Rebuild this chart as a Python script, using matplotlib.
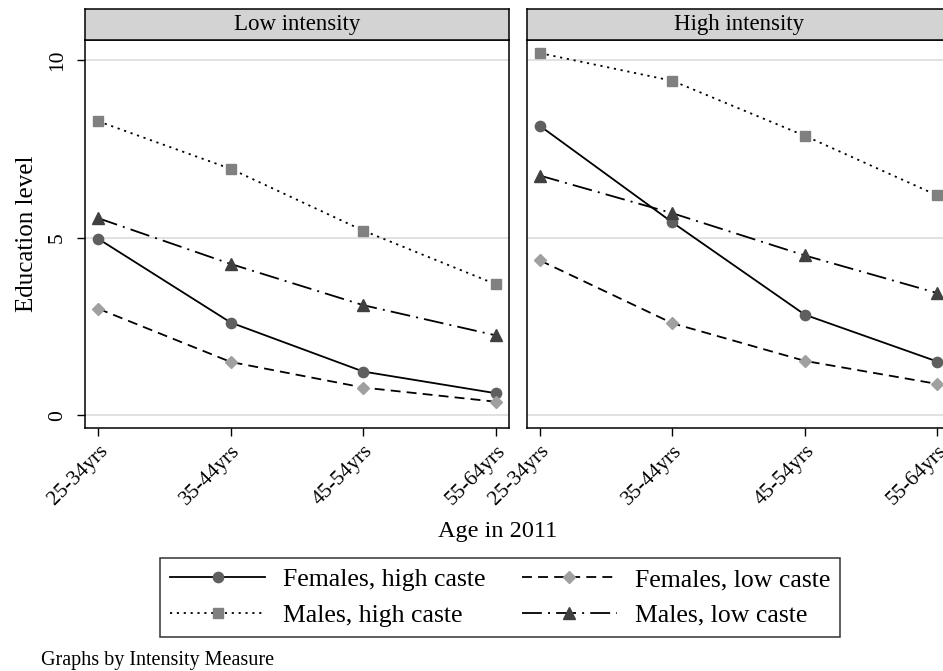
import matplotlib
matplotlib.use("Agg")
import matplotlib.pyplot as plt
from matplotlib.lines import Line2D

plt.rcParams['font.family'] = ['Liberation Serif', 'DejaVu Serif']

age_groups = ["25-34yrs", "35-44yrs", "45-54yrs", "55-64yrs"]
panels = ["Low intensity", "High intensity"]
series_labels = ["Females, high caste", "Females, low caste",
                 "Males, high caste", "Males, low caste"]

# values per panel: [low intensity, high intensity]
females_high = [[4.97, 2.61, 1.23, 0.62], [8.15, 5.43, 2.83, 1.51]]
females_low = [[3.00, 1.50, 0.78, 0.38], [4.36, 2.59, 1.53, 0.88]]
males_high = [[8.28, 6.94, 5.20, 3.69], [10.20, 9.42, 7.87, 6.19]]
males_low = [[5.55, 4.26, 3.10, 2.25], [6.75, 5.69, 4.50, 3.44]]

yticks = [0, 5, 10]

lw = 1.3
styles = [
    dict(ls='-', marker='o', mfc='#5f5f5f', mec='#5f5f5f', ms=7.4),
    dict(ls=(0, (5.5, 3.4)), marker='D', mfc='#a0a0a0', mec='#a0a0a0', ms=6.4),
    dict(ls=(0, (1.2, 2.6)), marker='s', mfc='#808080', mec='#808080', ms=7.4),
    dict(ls=(0, (11, 3.4, 1.1, 3.4)), marker='^', mfc='#404040', mec='#404040', ms=8.8),
]
data = [females_high, females_low, males_high, males_low]

W, H = 943, 671
fig = plt.figure(figsize=(W / 100, H / 100), dpi=100)

def fx(px):
    return px / W

def fy(py):
    return 1 - py / H

panel_lefts = [85, 526.7]
pw = 424
ptop, pbot = 40, 428
strip_top = 9

x = list(range(len(age_groups)))
for i, (pl, title) in enumerate(zip(panel_lefts, panels)):
    ax = fig.add_axes([fx(pl), fy(pbot), fx(pw), (pbot - ptop) / H])
    for d, st, lab in zip(data, styles, series_labels):
        ax.plot(x, d[i], color='black', lw=lw, label=lab, zorder=3, **st)
    ax.set_xlim(-0.1, 3.1)
    ax.set_ylim(-0.36, 10.57)
    ax.set_yticks(yticks)
    for yv in yticks:
        ax.axhline(yv, color='#dedede', lw=1.3, zorder=1)
    ax.set_xticks(x)
    ax.set_xticklabels(age_groups, rotation=45, ha='right', va='top',
                       rotation_mode='anchor', fontsize=15.5)
    ax.tick_params(axis='x', length=6, width=1, pad=4)
    if i == 0:
        ax.set_yticklabels([str(v) for v in yticks], rotation=90,
                           va='center', fontsize=15.5)
        ax.tick_params(axis='y', length=6, width=1, pad=7)
        ax.set_ylabel("Education level", fontsize=18, labelpad=7)
    else:
        ax.tick_params(axis='y', left=False, labelleft=False)
    for sp in ax.spines.values():
        sp.set_linewidth(1.1)
    # strip
    sax = fig.add_axes([fx(pl), fy(ptop), fx(pw), (ptop - strip_top) / H])
    sax.set_facecolor('#d3d3d3')
    sax.set_xticks([])
    sax.set_yticks([])
    for sp in sax.spines.values():
        sp.set_linewidth(1.1)
    sax.text(0.5, 0.5, title, ha='center', va='center', fontsize=16.5,
             transform=sax.transAxes)

fig.text(fx(497.5), fy(531), "Age in 2011", ha='center', va='center',
         fontsize=17.5)
fig.text(fx(41), fy(660), "Graphs by Intensity Measure", ha='left',
         va='center', fontsize=14.5)

# legend filled column-wise: reorder so rows read FH, FL / MH, ML
order = [0, 2, 1, 3]
handles = [Line2D([], [], color='black', lw=lw, **styles[k]) for k in order]
labels = [series_labels[k] for k in order]
leg = fig.legend(handles, labels, loc='center',
                 bbox_to_anchor=(fx(500), fy(597.5)), ncol=2, numpoints=1,
                 fontsize=18.5, handlelength=3.7, handletextpad=0.7,
                 columnspacing=1.4, labelspacing=0.5, borderpad=0.4,
                 borderaxespad=0, fancybox=False, frameon=True,
                 edgecolor='black')
leg.get_frame().set_linewidth(1.1)

fig.savefig("out.png", dpi=100)
